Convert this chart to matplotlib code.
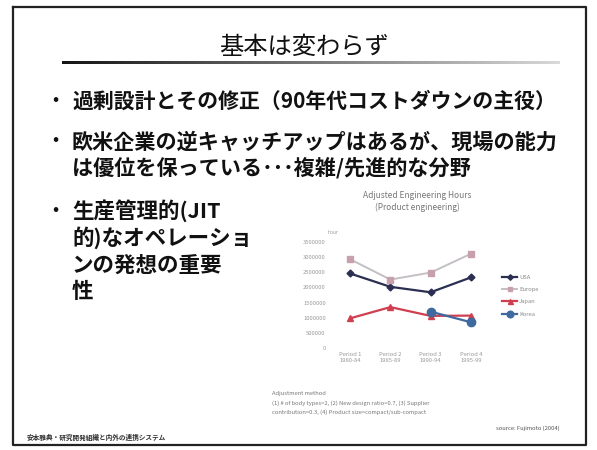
import matplotlib
matplotlib.use("Agg")
import matplotlib.pyplot as plt
import numpy as np

plt.rcParams['font.family'] = ['Noto Sans CJK JP', 'DejaVu Sans']

# ---- data ----
periods = ["Period 1\n1980-84", "Period 2\n1985-89", "Period 3\n1990-94", "Period 4\n1995-99"]
usa = [2460000, 2020000, 1840000, 2330000]
europe = [2930000, 2260000, 2490000, 3110000]
japan = [980000, 1350000, 1060000, 1070000]
korea = [np.nan, np.nan, 1200000, 850000]
yticks = [0, 500000, 1000000, 1500000, 2000000, 2500000, 3000000, 3500000]

title = "基本は変わらず"
bullet1 = ["過剰設計とその修正（90年代コストダウンの主役）"]
bullet2 = ["欧米企業の逆キャッチアップはあるが、現場の能力", "は優位を保っている･･･複雑/先進的な分野"]
bullet3 = ["生産管理的(JIT", "的)なオペレーショ", "ンの発想の重要", "性"]
footer_left = "安本雅典・研究開発組織と内外の連携システム"
footer_right = "source: Fujimoto (2004)"
notes = ["Adjustment method",
         "(1) # of body types=2, (2) New design ratio=0.7, (3) Supplier",
         "contribution=0.3, (4) Product size=compact/sub-compact"]

W, H = 597, 450
fig = plt.figure(figsize=(W / 100, H / 100), dpi=100)
fig.patch.set_facecolor("white")

def px(x, y):
    return x / W, 1 - y / H

# decoration layer
deco = fig.add_axes([0, 0, 1, 1])
deco.set_xlim(0, W)
deco.set_ylim(H, 0)
deco.axis("off")
deco.plot([13, 586, 586, 13, 13], [7, 7, 445, 445, 7], color="#222222", lw=1.6)
# gradient underline
grad = np.linspace(0.08, 0.85, 256)[None, :]
deco.imshow(grad, cmap="gray", vmin=0, vmax=1, aspect="auto",
            extent=(62, 560, 64.5, 61.5), interpolation="bilinear")
deco.set_xlim(0, W)
deco.set_ylim(H, 0)

fig.text(*px(304, 47), title, fontsize=17.5, ha="center", va="center", color="#111111")

def bullet_block(lines, y0, dy, fs):
    fig.text(*px(55, y0), "・", fontsize=13, ha="center", va="center",
             color="#111111", fontweight="bold")
    for k, ln in enumerate(lines):
        fig.text(*px(72, y0 + k * dy), ln, fontsize=fs, ha="left", va="center",
                 color="#111111", fontweight="bold")

bullet_block(bullet1, 101, 26, 15)
bullet_block(bullet2, 142, 26, 15.2)
bullet_block(bullet3, 211, 27, 15.5)

fig.text(*px(27, 437), footer_left, fontsize=4.8, ha="left", va="center",
         color="#333333", fontweight="bold")
fig.text(*px(560, 428), footer_right, fontsize=4.2, ha="right", va="center",
         color="#555555")
for k, ln in enumerate(notes):
    fig.text(*px(272, 394 + k * 9), ln, fontsize=4.2, ha="left", va="center",
             color="#777777", style="italic" if k else "normal")

# chart title
fig.text(*px(417, 195), "Adjusted Engineering Hours", fontsize=6, ha="center",
         va="center", color="#777777")
fig.text(*px(417, 207), "(Product engineering)", fontsize=6, ha="center",
         va="center", color="#777777")
fig.text(*px(333, 232), "hour", fontsize=3.5, ha="center", va="center", color="#999999")

# chart
l, b = px(330, 348)
r, t = px(491, 242)
ax = fig.add_axes([l, b, r - l, t - b])
x = np.arange(len(periods))
ax.plot(x, usa, color="#2b3052", marker="D", ms=3.5, lw=1.6, label="USA")
ax.plot(x, europe, color="#c4bfc4", marker="s", ms=4, mfc="#c8a0ac", mec="#c8a0ac",
        lw=1.4, label="Europe")
ax.plot(x, japan, color="#cf3f4f", marker="^", ms=4.5, lw=1.6, label="Japan")
ax.plot(x, korea, color="#3f6aa0", marker="o", ms=6, lw=1.6, label="Korea")
ax.set_xlim(-0.5, 3.5)
ax.set_ylim(0, 3500000)
ax.set_yticks(yticks)
ax.set_yticklabels([str(v) for v in yticks])
ax.set_xticks(x)
ax.set_xticklabels(periods)
ax.tick_params(length=0, labelsize=4.2, labelcolor="#999999", pad=3)
for s in ax.spines.values():
    s.set_visible(False)
ax.patch.set_alpha(0)
leg = ax.legend(loc="upper left", bbox_to_anchor=(px(497, 270)[0], px(497, 270)[1]),
                bbox_transform=fig.transFigure, frameon=False, fontsize=4.2,
                handlelength=2.6, labelspacing=1.2, handletextpad=0.3, markerscale=0.8)
for txt in leg.get_texts():
    txt.set_color("#888888")

fig.savefig("out.png", dpi=100, facecolor="white")
